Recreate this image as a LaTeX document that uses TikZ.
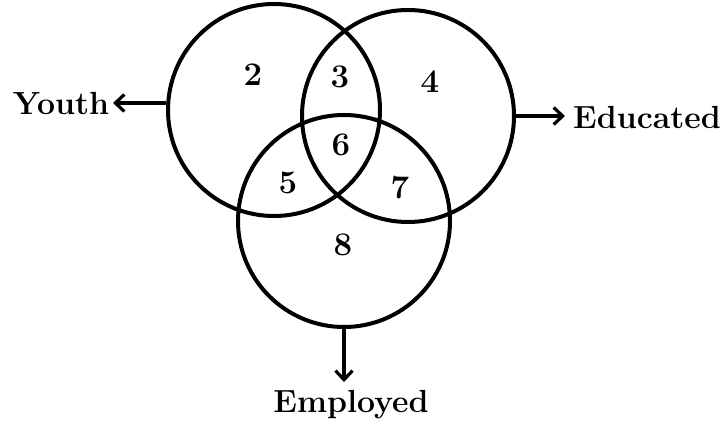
\documentclass[tikz,border=0pt]{standalone}
\usepackage{fontspec}
\usetikzlibrary{arrows.meta}
\begin{document}
\begin{tikzpicture}[x=1pt,y=-1pt,
  setc/.style={draw,circle,line width=4pt,minimum size=212pt,inner sep=0pt},
  lbl/.style={font=\fontsize{32}{36}\selectfont\bfseries},
  num/.style={font=\fontsize{33}{36}\selectfont\bfseries},
  arr/.style={line width=3.2pt,-{Straight Barb[length=9pt,width=17pt,line width=3.2pt]}}]
\useasboundingbox (0,0) rectangle (723,430);
\node[setc] (youth) at (274,110) {};
\node[setc] (educ) at (408,116) {};
\node[setc] (empl) at (344,221) {};
\node[lbl] (ly) at (61,103) {Youth};
\node[lbl] (le) at (647,117) {Educated};
\node[lbl] (lm) at (351,405) {Employed};
\coordinate (ay) at (113,103);
\coordinate (ae) at (565,116);
\coordinate (am) at (344,382);
\draw[arr] (youth.west |- ay) -- (ay);
\draw[arr] (educ.east) -- (ae);
\draw[arr] (empl.south) -- (am);
\node[num] (n2) at (253,75) {2};
\node[num] (n3) at (340,77) {3};
\node[num] (n4) at (430,82) {4};
\node[num] (n6) at (341,145) {6};
\node[num] (n5) at (288,183) {5};
\node[num] (n7) at (400,188) {7};
\node[num] (n8) at (343,245) {8};
\end{tikzpicture}
\end{document}
